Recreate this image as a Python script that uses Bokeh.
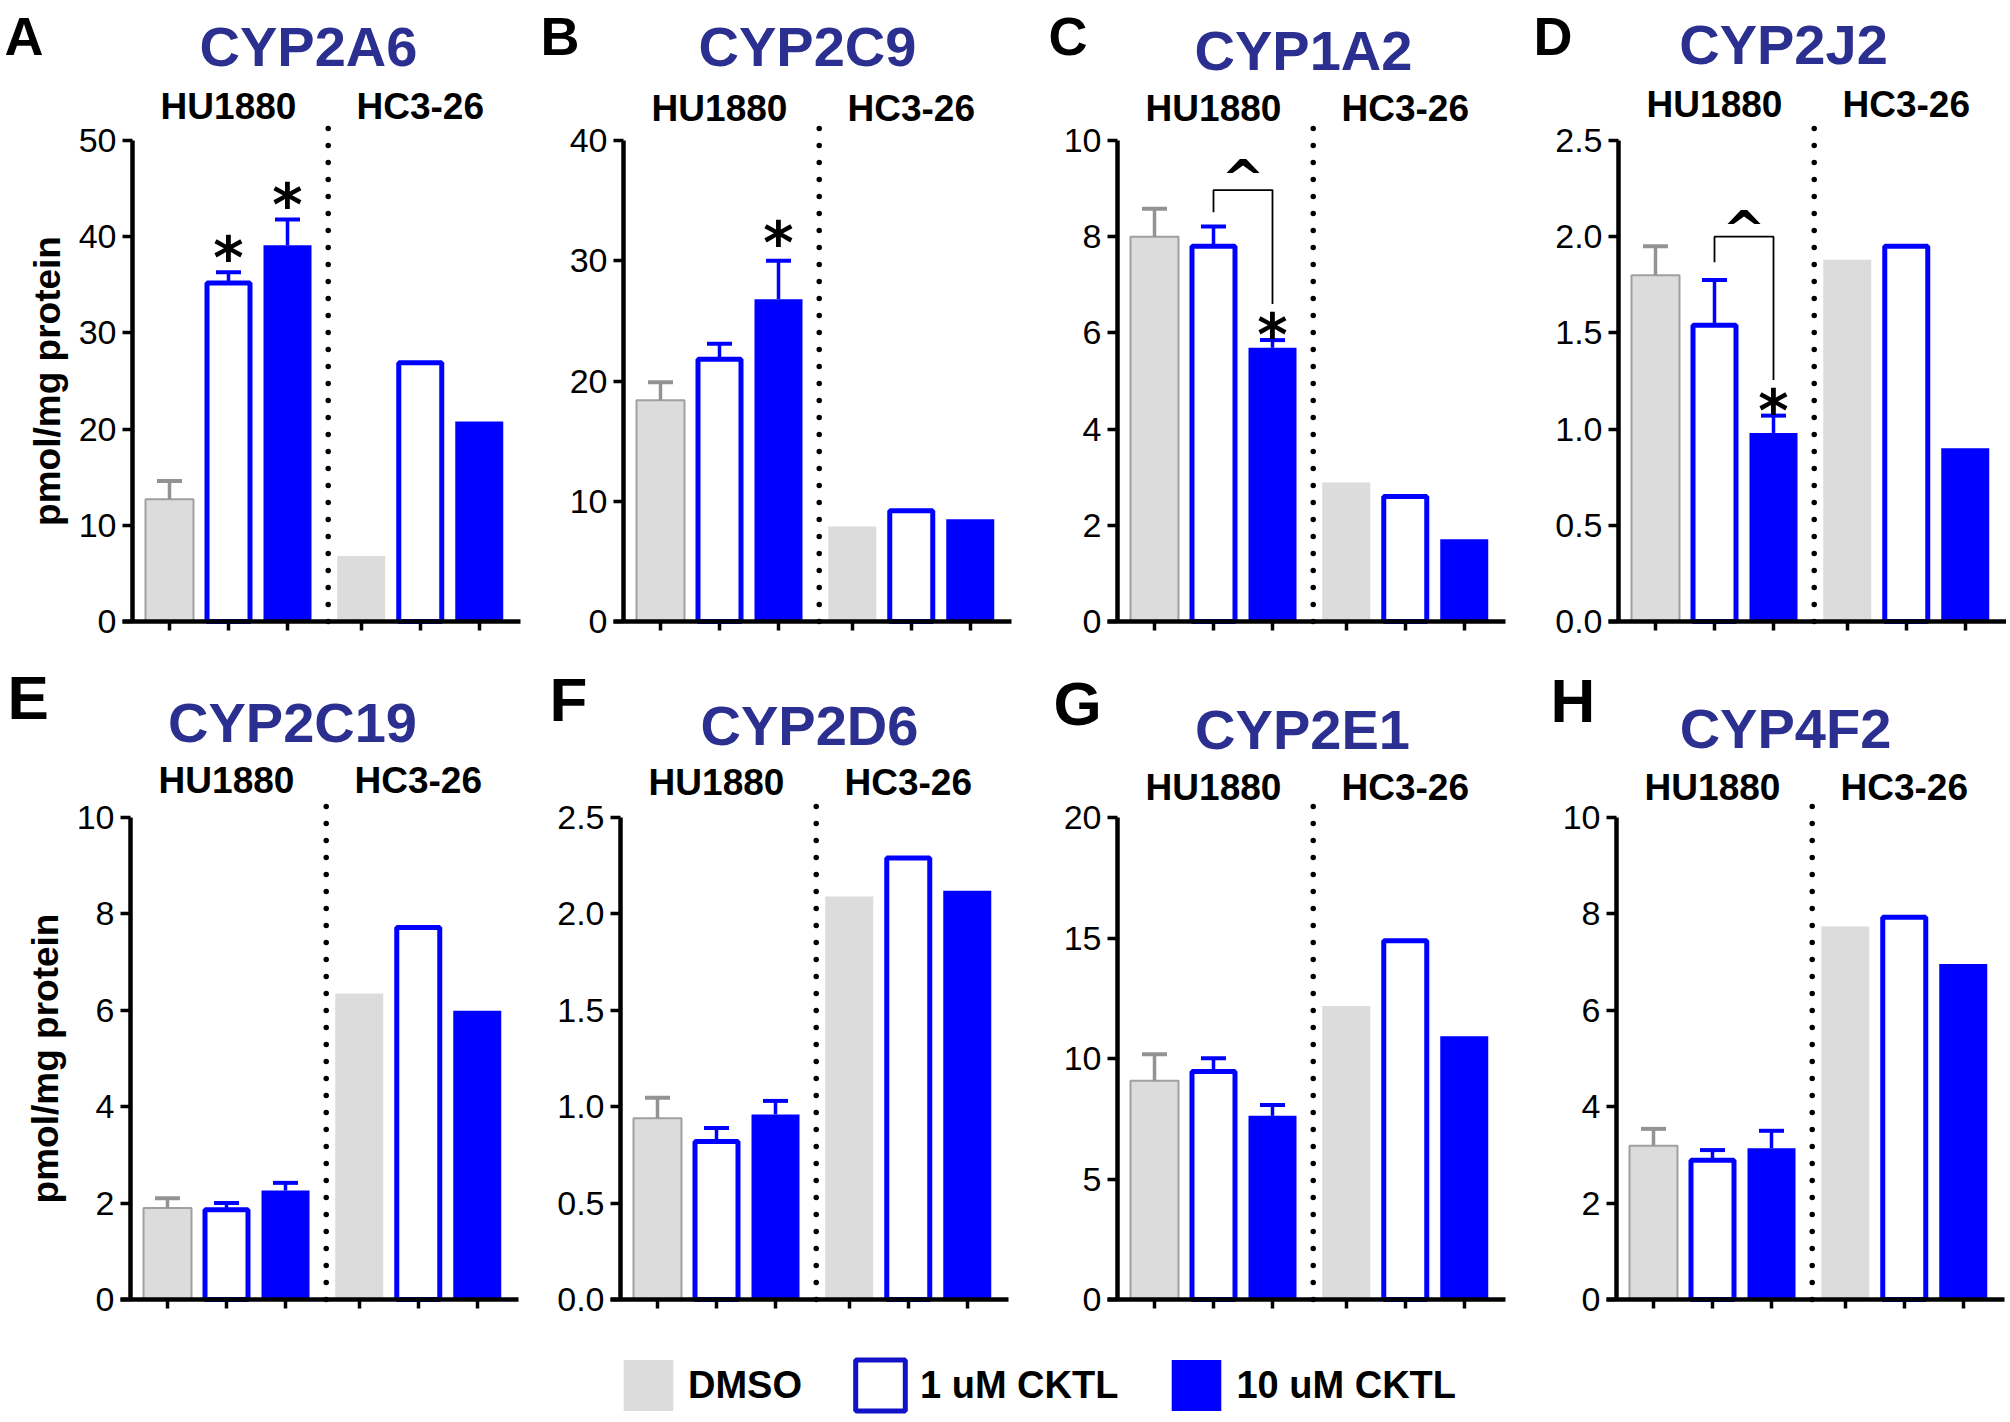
from bokeh.plotting import figure
from bokeh.layouts import row, column
from bokeh.models import (Range1d, FixedTicker, PrintfTickFormatter, Label, Legend, LegendItem,
                          LinearAxis)
from bokeh.embed import file_html
from bokeh.resources import INLINE

# ---------------- data ----------------
panel_letters = ["A", "B", "C", "D", "E", "F", "G", "H"]
enzymes = ["CYP2A6", "CYP2C9", "CYP1A2", "CYP2J2", "CYP2C19", "CYP2D6", "CYP2E1", "CYP4F2"]
cell_lines = ["HU1880", "HC3-26"]
treatments = ["DMSO", "1 uM CKTL", "10 uM CKTL"]

# means: [DMSO, 1 uM, 10 uM]  (pmol/mg protein)
cyp2a6_hu = [12.7, 35.2, 39.1]
cyp2a6_hc = [6.8, 26.9, 20.8]
cyp2a6_err = [1.9, 1.1, 2.7]

cyp2c9_hu = [18.4, 21.8, 26.8]
cyp2c9_hc = [7.9, 9.2, 8.5]
cyp2c9_err = [1.5, 1.3, 3.2]

cyp1a2_hu = [8.0, 7.8, 5.69]
cyp1a2_hc = [2.89, 2.6, 1.71]
cyp1a2_err = [0.58, 0.41, 0.16]

cyp2j2_hu = [1.80, 1.54, 0.98]
cyp2j2_hc = [1.88, 1.95, 0.90]
cyp2j2_err = [0.15, 0.235, 0.09]

cyp2c19_hu = [1.90, 1.86, 2.26]
cyp2c19_hc = [6.35, 7.72, 5.99]
cyp2c19_err = [0.20, 0.14, 0.16]

cyp2d6_hu = [0.94, 0.82, 0.96]
cyp2d6_hc = [2.09, 2.29, 2.12]
cyp2d6_err = [0.107, 0.07, 0.07]

cyp2e1_hu = [9.08, 9.46, 7.62]
cyp2e1_hc = [12.18, 14.89, 10.92]
cyp2e1_err = [1.1, 0.55, 0.45]

cyp4f2_hu = [3.19, 2.89, 3.14]
cyp4f2_hc = [7.74, 7.93, 6.96]
cyp4f2_err = [0.35, 0.21, 0.36]

means_hu = [cyp2a6_hu, cyp2c9_hu, cyp1a2_hu, cyp2j2_hu, cyp2c19_hu, cyp2d6_hu, cyp2e1_hu, cyp4f2_hu]
means_hc = [cyp2a6_hc, cyp2c9_hc, cyp1a2_hc, cyp2j2_hc, cyp2c19_hc, cyp2d6_hc, cyp2e1_hc, cyp4f2_hc]
errs_hu = [cyp2a6_err, cyp2c9_err, cyp1a2_err, cyp2j2_err, cyp2c19_err, cyp2d6_err, cyp2e1_err, cyp4f2_err]

y_max = [50, 40, 10, 2.5, 10, 2.5, 20, 10]
y_ticks = [
    [0, 10, 20, 30, 40, 50],
    [0, 10, 20, 30, 40],
    [0, 2, 4, 6, 8, 10],
    [0.0, 0.5, 1.0, 1.5, 2.0, 2.5],
    [0, 2, 4, 6, 8, 10],
    [0.0, 0.5, 1.0, 1.5, 2.0, 2.5],
    [0, 5, 10, 15, 20],
    [0, 2, 4, 6, 8, 10],
]
y_fmt = ["%d", "%d", "%d", "%.1f", "%d", "%.1f", "%d", "%d"]

# significance: "*" above these HU1880 bars (index in treatments)
star_bars = {"CYP2A6": [1, 2], "CYP2C9": [2], "CYP1A2": [2], "CYP2J2": [2]}
# "^" bracket 1 uM vs 10 uM: (left foot, top, right foot, caret level)
bracket = {"CYP1A2": (8.51, 8.97, 6.60, 9.46), "CYP2J2": (1.867, 2.0, 1.255, 2.10)}

# ---------------- style / layout ----------------
GRAY = "#dcdcdc"
GRAY_EDGE = "#a0a0a0"
GRAY_ERR = "#939393"
BLUE = "#0000ff"
TITLE_COLOR = "#2b2f8f"
FONT = "Liberation Sans"
BASE_FIX = 0.37     # em; shift of the rendered baseline for Label texts

PXU = 59.0          # pixels per bar slot
LEFT_PAD = 37.0     # y-axis to first bar centre, px
FRAME_W = 388
POS = [0, 1, 2, 3.25, 4.25, 5.25]
DIVIDER_X = 2.69
BAR_W = 48 / PXU
OUT_W = 43 / PXU
CAP = 12.5 / PXU

COL_LEFT = [0, 530, 1030, 1515]
COL_RIGHT = [530, 1030, 1515, 2006]
ROW_TOP = [0, 655]
ROW_BOTTOM = [655, 1330]
LEG_H = 88
ROW_FTOP = [120, 797]        # top of dotted divider
ROW_ZERO = [621, 1299]       # pixel of y = 0
ROW_YMAXPX = [140, 817]      # pixel of top tick
YAXIS_PX = [132, 623, 1117, 1618, 130, 620, 1117, 1616]
LETTER_POS = [(4, 55), (540, 55), (1048, 55), (1533, 55), (7, 720), (549, 722), (1053, 726), (1550, 723)]
TITLE_POS = [(308, 67), (807, 67), (1303, 71), (1783, 65), (292, 743), (809, 746), (1302, 750), (1785, 749)]
GROUP_BASE = [120, 122, 122, 118, 794, 796, 801, 801]
STAR_OFF = [26, 30, 17, 17, 0, 0, 0, 0]

LETTER_FS = [54, 62]
TITLE_FS, GROUP_FS = 56, 37


def make_panel(k):
    col, rw = k % 4, k // 4
    W = COL_RIGHT[col] - COL_LEFT[col]
    H = ROW_BOTTOM[rw] - ROW_TOP[rw]
    yax = YAXIS_PX[k]
    ftop, y0, ytop = ROW_FTOP[rw], ROW_ZERO[rw], ROW_YMAXPX[rw]
    ymax = y_max[k]
    sy = ymax / (y0 - ytop)                 # data per pixel
    x_axis_loc = -LEFT_PAD / PXU
    x_start = x_axis_loc - (yax - COL_LEFT[col]) / PXU
    x_end = x_start + W / PXU
    y_start = -(ROW_BOTTOM[rw] - y0) * sy
    y_end = (y0 - ROW_TOP[rw]) * sy

    def dx(px):
        return x_start + (px - COL_LEFT[col]) / PXU

    def dy(py):
        return (y0 - py) * sy

    p = figure(width=W, height=H, x_range=Range1d(x_start, x_end), y_range=Range1d(y_start, y_end),
               x_axis_type=None, y_axis_type=None,
               output_backend="svg", toolbar_location=None, tools="", min_border=0)
    p.outline_line_color = None
    p.xgrid.visible = False
    p.ygrid.visible = False

    hu, hc, err = means_hu[k], means_hc[k], errs_hu[k]

    # bars
    p.vbar(x=[POS[0]], top=[hu[0]], width=BAR_W, fill_color=GRAY, line_color=GRAY_EDGE, line_width=2)
    p.vbar(x=[POS[3]], top=[hc[0]], width=BAR_W, fill_color=GRAY, line_color=None)
    p.vbar(x=[POS[1], POS[4]], top=[hu[1], hc[1]], width=OUT_W, fill_color="white",
           line_color=BLUE, line_width=5)
    p.vbar(x=[POS[2], POS[5]], top=[hu[2], hc[2]], width=BAR_W, fill_color=BLUE, line_color=None)

    # error bars (upper only)
    ex = POS[:3]
    et = [m + e for m, e in zip(hu, err)]
    ecol = [GRAY_ERR, BLUE, BLUE]
    p.segment(x0=ex, y0=hu, x1=ex, y1=et, line_color=ecol, line_width=3.5)
    p.segment(x0=[x - CAP for x in ex], y0=et, x1=[x + CAP for x in ex], y1=et,
              line_color=ecol, line_width=4)

    # dotted divider
    p.segment(x0=[DIVIDER_X], y0=[0], x1=[DIVIDER_X], y1=[dy(ftop)], line_color="black",
              line_width=5.5, line_dash="0 17", line_cap="round")

    name = enzymes[k]
    for i in star_bars.get(name, []):
        p.add_layout(Label(x=POS[i], y=et[i] + (STAR_OFF[k] - 12) * sy, text="*",
                           text_font="DejaVu Sans", text_font_size="58px", text_font_style="bold",
                           text_align="center", text_baseline="middle", text_color="black"))
    if name in bracket:
        lf, tp, rf, cy = bracket[name]
        p.line(x=[POS[1], POS[1], POS[2], POS[2]], y=[lf, tp, tp, rf], line_color="black", line_width=1.8)
        p.add_layout(Label(x=(POS[1] + POS[2]) / 2, y=cy - 13 * sy, text="^",
                           text_font="DejaVu Sans", text_font_size="52px", text_font_style="bold",
                           text_align="center", text_baseline="middle", text_color="black"))

    # axes (placed at fixed data locations inside the frame)
    ya = LinearAxis(fixed_location=x_axis_loc, ticker=FixedTicker(ticks=y_ticks[k]),
                    formatter=PrintfTickFormatter(format=y_fmt[k]), bounds=(0, ymax))
    ya.axis_line_width = 4.5
    ya.axis_line_color = "black"
    ya.major_tick_line_width = 3.5
    ya.major_tick_out = 10
    ya.major_tick_in = 0
    ya.minor_tick_out = 0
    ya.minor_tick_in = 0
    ya.major_label_text_font = FONT
    ya.major_label_text_font_size = "34px"
    ya.major_label_text_color = "black"
    ya.major_label_standoff = 6
    if col == 0:
        ya.axis_label = "pmol/mg protein"
        ya.axis_label_text_font = FONT
        ya.axis_label_text_font_size = "37px"
        ya.axis_label_text_font_style = "bold"
        ya.axis_label_text_color = "black"
        ya.axis_label_standoff = 8
    p.add_layout(ya, "left")

    xa = LinearAxis(fixed_location=0, ticker=FixedTicker(ticks=POS),
                    bounds=(dx(yax - 10), dx(yax + FRAME_W)))
    xa.major_label_overrides = {v: "" for v in POS}
    xa.axis_line_width = 4.5
    xa.axis_line_color = "black"
    xa.major_tick_line_width = 3.5
    xa.major_tick_out = 9
    xa.major_tick_in = 0
    xa.minor_tick_out = 0
    xa.minor_tick_in = 0
    p.add_layout(xa, "below")

    # texts
    lx, lb = LETTER_POS[k]
    lfs = LETTER_FS[rw]
    p.add_layout(Label(x=dx(lx), y=dy(lb - BASE_FIX * lfs), text=panel_letters[k], text_font=FONT,
                       text_font_size=f"{lfs}px", text_font_style="bold", text_align="left",
                       text_baseline="alphabetic", text_color="black"))
    tx, tb = TITLE_POS[k]
    p.add_layout(Label(x=dx(tx), y=dy(tb - BASE_FIX * TITLE_FS), text=name, text_font=FONT,
                       text_font_size=f"{TITLE_FS}px", text_font_style="bold", text_align="center",
                       text_baseline="alphabetic", text_color=TITLE_COLOR))
    gcenters = [(POS[0] + POS[2]) / 2, (POS[3] + POS[5]) / 2]
    for g, cl in enumerate(cell_lines):
        p.add_layout(Label(x=gcenters[g], y=dy(GROUP_BASE[k] - BASE_FIX * GROUP_FS), text=cl,
                           text_font=FONT, text_font_size=f"{GROUP_FS}px", text_font_style="bold",
                           text_align="center", text_baseline="alphabetic", text_color="black"))
    return p


panels = [make_panel(k) for k in range(8)]

# ---------------- legend ----------------
leg = figure(width=COL_RIGHT[-1], height=LEG_H, x_range=Range1d(0, 1), y_range=Range1d(0, 1),
             x_axis_type=None, y_axis_type=None, output_backend="svg", toolbar_location=None,
             tools="", min_border=0)
leg.outline_line_color = None
leg.xgrid.visible = False
leg.ygrid.visible = False
# legend proxies: one row each with no drawable height (NaN), only their style is used
nan = float("nan")
r_dmso = leg.vbar(x=[0.5], top=[nan], width=0.5, fill_color=GRAY, line_color=None)
r_1 = leg.vbar(x=[0.5], top=[nan], width=0.5, fill_color="white", line_color="#1212c8", line_width=5)
r_10 = leg.vbar(x=[0.5], top=[nan], width=0.5, fill_color=BLUE, line_color=None)
legend = Legend(items=[LegendItem(label=treatments[0], renderers=[r_dmso]),
                       LegendItem(label=treatments[1], renderers=[r_1]),
                       LegendItem(label=treatments[2], renderers=[r_10])],
                orientation="horizontal", location=(617, 1), glyph_width=62, glyph_height=64,
                label_standoff=9, spacing=47, padding=0, margin=0, border_line_color=None,
                background_fill_alpha=0, label_text_font=FONT,
                label_text_font_size="38px", label_text_font_style="bold", label_text_color="black",
                label_height=64)
leg.add_layout(legend)

layout = column(row(*panels[:4]), row(*panels[4:]), leg)
open("out.html", "w").write(file_html(layout, INLINE))
